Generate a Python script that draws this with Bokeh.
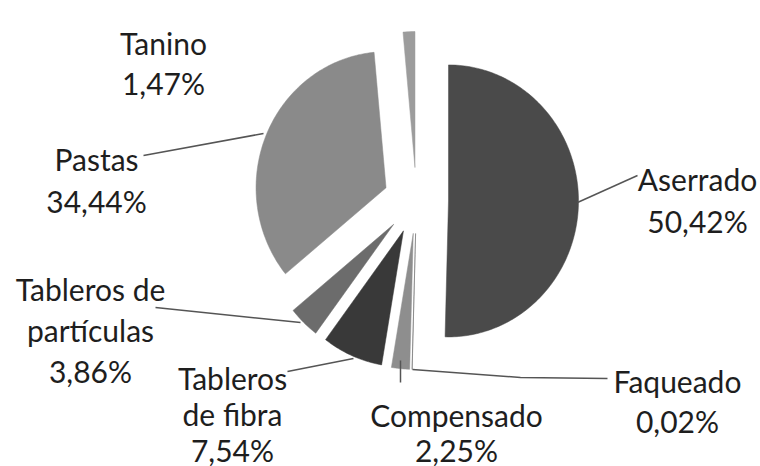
import numpy as np
from bokeh.plotting import figure
from bokeh.models import Range1d, ColumnDataSource
from bokeh.core.properties import value
from bokeh.embed import file_html
from bokeh.resources import INLINE

# ---- data ----
categories = ["Aserrado", "Faqueado", "Compensado", "Tableros de fibra",
              "Tableros de partículas", "Pastas", "Tanino"]
shares = [50.42, 0.02, 2.25, 7.54, 3.86, 34.44, 1.47]
label_lines = [["Aserrado"], ["Faqueado"], ["Compensado"], ["Tableros", "de fibra"],
               ["Tableros de", "partículas"], ["Pastas"], ["Tanino"]]

# ---- styles / layout ----
colors = ["#4a4a4a", "#6a6a6a", "#8e8e8e", "#393939", "#6c6c6c", "#8a8a8a", "#9c9c9c"]
center = (416.0, 200.0)
rx, ry = 130.0, 136.0
explode = [32, 33, 33, 33, 33, 33, 33]
# label anchor (center x, first baseline y, line gap)
label_pos = [(697, 178, 42), (677, 380, 40), (456, 414, 35), (232, 377, 36),
             (90, 288, 41), (96, 158, 42), (163, 42, 40)]
leaders = [
    [(577, 202), (637, 175)],
    [(412, 369), (520, 377), (607, 378)],
    [(400, 360), (400, 382)],
    [(353, 358), (287, 371)],
    [(300, 322), (155, 307)],
    [(263, 133), (143, 155)],
]

W, H = 760, 466
p = figure(width=W, height=H, x_range=Range1d(0, W), y_range=Range1d(H, 0),
           output_backend="svg", toolbar_location=None, min_border=0)
p.axis.visible = False
p.grid.visible = False
p.outline_line_color = None
p.background_fill_color = "white"

total = sum(shares)
xs, ys = [], []
start = 0.0
for v, d in zip(shares, explode):
    a0 = start / total * 2 * np.pi
    a1 = (start + v) / total * 2 * np.pi
    mid = (a0 + a1) / 2
    vx = center[0] + d * np.sin(mid)
    vy = center[1] - d * np.cos(mid)
    t = np.linspace(a0, a1, max(3, int(np.degrees(a1 - a0)) + 2))
    px = np.concatenate([[vx], vx + rx * np.sin(t)])
    py = np.concatenate([[vy], vy - ry * np.cos(t)])
    xs.append(list(px))
    ys.append(list(py))
    start += v

src = ColumnDataSource(dict(xs=xs, ys=ys, color=colors, name=categories))
p.patches("xs", "ys", source=src, fill_color="color", line_color="color", line_width=0.5)

for pts in leaders:
    p.line([q[0] for q in pts], [q[1] for q in pts], line_color="#555555", line_width=1.5)

tx, ty, tt = [], [], []
for lines, v, (cx, by, gap) in zip(label_lines, shares, label_pos):
    allines = lines + [f"{v:.2f}".replace(".", ",") + "%"]
    for i, s in enumerate(allines):
        tx.append(cx)
        ty.append(by + i * gap)
        tt.append(s)

p.text(x=tx, y=ty, text=tt, text_font=value("Lato"), text_font_size="30px",
       text_align="center", text_baseline="alphabetic", text_color="#1e1e1e")

open("out.html", "w").write(file_html(p, INLINE))
